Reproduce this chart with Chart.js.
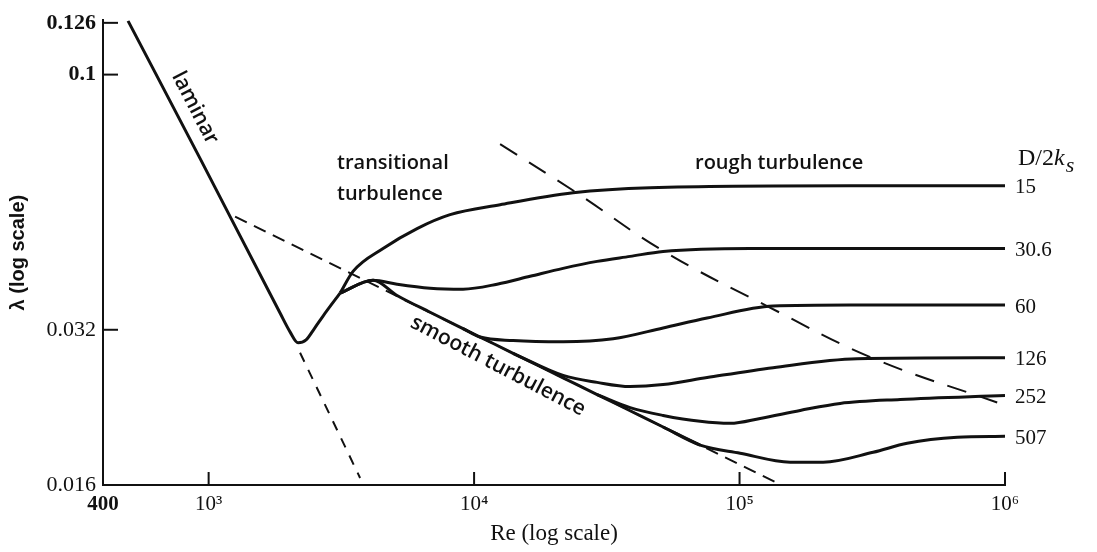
<!DOCTYPE html>
<html>
<head>
<meta charset="utf-8">
<title>Friction factor vs Reynolds number</title>
<script src="https://cdn.jsdelivr.net/npm/chart.js@4.4.0/dist/chart.umd.min.js"></script>
<style>
  html, body { margin: 0; padding: 0; background: #fff; }
  canvas { display: block; }
</style>
</head>
<body>
<canvas id="chart" width="1097" height="552"></canvas>
<script>
// axis ticks
const xTicks = [400, 1e3, 1e4, 1e5, 1e6];
const xTickLabels = ['400', '10³', '10⁴', '10⁵', '10⁶'];
const yTicks = [0.016, 0.032, 0.1, 0.126];
const yTickLabels = ['0.016', '0.032', '0.1', '0.126'];

// laminar line down into the dip (Re, lambda)
const laminarRe  = [497, 928, 1858, 2026, 2172, 2328, 2495, 2698, 3127];
const laminarLam = [0.1271, 0.0688, 0.03448, 0.0317, 0.03019, 0.03059, 0.03211, 0.03403, 0.03769];

// smooth turbulence (solid part)
const smoothRe  = [3127, 4164, 5127, 6828, 9088, 10534, 14030, 21640, 29070, 38700, 51540, 71040];
const smoothLam = [0.03769, 0.03992, 0.03730, 0.03460, 0.03216, 0.03098, 0.02881, 0.02582, 0.02396, 0.02229, 0.02073, 0.01912];

// D/2ks curves
const curveNames = ['15', '30.6', '60', '126', '252', '507'];
const re15  = [3127, 3500, 4541, 6099, 8122, 12532, 23605, 46040, 261000, 1e6];
const lam15 = [0.03769, 0.04154, 0.04601, 0.05028, 0.0535, 0.05593, 0.05899, 0.06032, 0.06085, 0.06085];
const re30  = [3127, 4164, 5127, 6828, 9088, 12210, 16255, 21640, 29070, 38700, 51540, 109600, 1e6];
const lam30 = [0.03769, 0.03992, 0.03922, 0.03853, 0.03836, 0.03922, 0.04063, 0.0421, 0.04343, 0.04441, 0.0454, 0.04601, 0.04601];
const re60  = [9088, 10534, 14030, 21640, 33400, 51540, 75490, 133800, 261000, 1e6];
const lam60 = [0.03216, 0.03098, 0.03050, 0.03032, 0.03073, 0.03226, 0.03373, 0.03557, 0.03573, 0.03573];
const re126  = [14030, 21640, 29070, 38700, 51540, 75490, 133800, 277400, 1e6];
const lam126 = [0.02881, 0.02610, 0.02530, 0.02483, 0.02505, 0.02585, 0.02702, 0.02812, 0.02825];
const re252  = [29070, 38700, 51540, 71040, 92180, 119600, 169200, 239300, 402800, 1e6];
const lam252 = [0.02396, 0.02260, 0.02183, 0.02126, 0.02107, 0.02154, 0.02232, 0.02303, 0.02344, 0.02386];
const re507  = [51540, 71040, 100500, 155100, 206500, 318700, 428000, 660500, 1e6];
const lam507 = [0.02073, 0.01912, 0.01844, 0.01772, 0.01772, 0.01852, 0.01928, 0.0198, 0.01989];

// dashed guide lines
const laminarDashRe  = [2210, 3720];
const laminarDashLam = [0.02888, 0.01651];
const smoothDashRe  = [1258, 143500];
const smoothDashLam = [0.05304, 0.016];
const roughDashRe  = [12532, 24020, 51990, 127000, 321500, 934600];
const roughDashLam = [0.07334, 0.05925, 0.0454, 0.03557, 0.02812, 0.02313];

const toPoints = (xs, ys) => xs.map((v, i) => ({ x: v, y: ys[i] }));

const solid = (xs, ys) => ({
  data: toPoints(xs, ys),
  borderColor: '#111',
  borderWidth: 3,
  pointRadius: 0,
  cubicInterpolationMode: 'monotone'
});
const dashed = (xs, ys, dash, tension) => ({
  data: toPoints(xs, ys),
  borderColor: '#111',
  borderWidth: 2,
  borderDash: dash,
  pointRadius: 0,
  tension: tension
});

const curves = [[re15, lam15], [re30, lam30], [re60, lam60], [re126, lam126], [re252, lam252], [re507, lam507]];

const datasets = [
  dashed(laminarDashRe, laminarDashLam, [10, 9], 0),
  dashed(smoothDashRe, smoothDashLam, [13, 8], 0),
  dashed(roughDashRe, roughDashLam, [20, 14], 0.4),
  solid(laminarRe, laminarLam),
  solid(smoothRe, smoothLam),
  ...curves.map(c => solid(c[0], c[1]))
];

const serif = '"Liberation Serif", "Times New Roman", serif';
const sans = '"Open Sans", "DejaVu Sans", sans-serif';

const textPlugin = {
  id: 'textPlugin',
  afterDraw(chart) {
    const { ctx, chartArea, scales: { x, y } } = chart;
    ctx.save();
    ctx.strokeStyle = '#111';
    ctx.lineWidth = 2;
    // inward tick marks
    xTicks.slice(1).forEach(v => {
      const px = x.getPixelForValue(v);
      ctx.beginPath();
      ctx.moveTo(px, chartArea.bottom);
      ctx.lineTo(px, chartArea.bottom - 13);
      ctx.stroke();
    });
    yTicks.slice(1).forEach(v => {
      const py = y.getPixelForValue(v);
      ctx.beginPath();
      ctx.moveTo(chartArea.left, py);
      ctx.lineTo(chartArea.left + 15, py);
      ctx.stroke();
    });

    ctx.fillStyle = '#111';
    // curve end labels
    ctx.font = '21px ' + serif;
    ctx.textAlign = 'left';
    ctx.textBaseline = 'middle';
    curves.forEach((c, i) => {
      const last = c[1][c[1].length - 1];
      ctx.fillText(curveNames[i], chartArea.right + 10, y.getPixelForValue(last) + 2);
    });

    // D/2ks header
    ctx.font = '24px ' + serif;
    ctx.fillText('D/2', 1018, 159);
    let w = ctx.measureText('D/2').width;
    ctx.font = 'italic 24px ' + serif;
    ctx.fillText('k', 1018 + w, 159);
    w += ctx.measureText('k').width + 1;
    ctx.font = 'italic 22px ' + serif;
    ctx.fillText('s', 1018 + w, 166);

    // region labels
    ctx.font = '600 20px ' + sans;
    ctx.fillText('transitional', 337, 163);
    ctx.fillText('turbulence', 337, 194);
    ctx.fillText('rough turbulence', 695, 163);

    ctx.textAlign = 'center';
    ctx.save();
    ctx.translate(195, 108);
    ctx.rotate(62.7 * Math.PI / 180);
    ctx.font = '600 21px ' + sans;
    ctx.fillText('laminar', 0, 0);
    ctx.restore();

    ctx.save();
    ctx.translate(498, 366);
    ctx.rotate(27.6 * Math.PI / 180);
    ctx.font = '600 21px ' + sans;
    ctx.fillText('smooth turbulence', 0, 0);
    ctx.restore();

    ctx.restore();
  }
};

new Chart(document.getElementById('chart'), {
  type: 'line',
  data: { datasets: datasets },
  options: {
    responsive: false,
    animation: false,
    layout: { padding: { left: 0, top: 17, right: 92, bottom: 0 } },
    plugins: { legend: { display: false }, tooltip: { enabled: false } },
    scales: {
      x: {
        type: 'logarithmic',
        min: 400,
        max: 1e6,
        grid: { display: false, drawTicks: false },
        border: { display: true, color: '#111', width: 2 },
        afterBuildTicks: (scale) => { scale.ticks = xTicks.map(v => ({ value: v })); },
        afterFit: (scale) => { scale.height = 67; },
        ticks: {
          autoSkip: false,
          maxRotation: 0,
          padding: 7,
          color: '#111',
          font: (ctx) => ({ family: serif, size: 21, weight: ctx.index === 0 ? 'bold' : 'normal' }),
          callback: (v) => xTickLabels[xTicks.indexOf(v)]
        },
        title: {
          display: true,
          text: 'Re (log scale)',
          color: '#111',
          font: { family: serif, size: 23 },
          padding: { top: 0, bottom: 4 }
        }
      },
      y: {
        type: 'logarithmic',
        min: 0.016,
        max: 0.1275,
        grid: { display: false, drawTicks: false },
        border: { display: true, color: '#111', width: 2 },
        afterBuildTicks: (scale) => { scale.ticks = yTicks.map(v => ({ value: v })); },
        afterFit: (scale) => { scale.width = 103; },
        ticks: {
          autoSkip: false,
          padding: 7,
          color: '#111',
          font: (ctx) => ({ family: serif, size: 22, weight: ctx.index >= 2 ? 'bold' : 'normal' }),
          callback: (v) => yTickLabels[yTicks.indexOf(v)]
        },
        title: {
          display: true,
          text: 'λ (log scale)',
          color: '#111',
          font: { family: '"Liberation Sans", Arial, sans-serif', size: 20, weight: 'bold' },
          padding: { top: 6, bottom: 0 }
        }
      }
    }
  },
  plugins: [textPlugin]
});
</script>
</body>
</html>
